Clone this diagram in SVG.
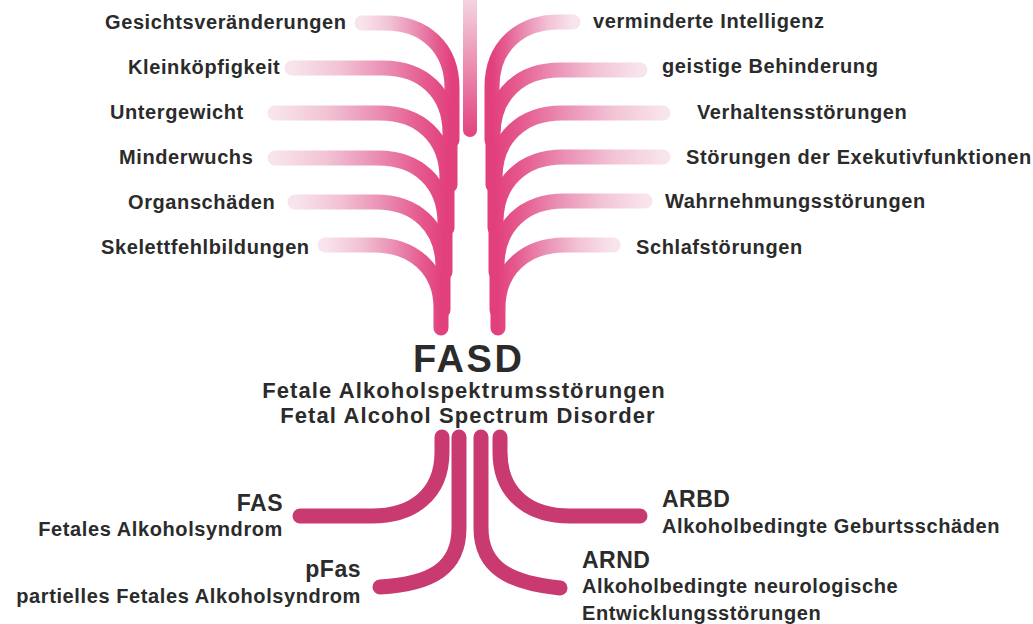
<svg xmlns="http://www.w3.org/2000/svg" width="1033" height="624" viewBox="0 0 1033 624">
<defs>
<linearGradient id="gl" x1="0" y1="0" x2="1" y2="0">
<stop offset="0" stop-color="#f8e4ec"/>
<stop offset="0.3" stop-color="#f2c3d5"/>
<stop offset="0.6" stop-color="#ea8db3"/>
<stop offset="0.85" stop-color="#e5598d"/>
<stop offset="1" stop-color="#e2407d"/>
</linearGradient>
<linearGradient id="gr" x1="1" y1="0" x2="0" y2="0">
<stop offset="0" stop-color="#f8e4ec"/>
<stop offset="0.3" stop-color="#f2c3d5"/>
<stop offset="0.6" stop-color="#ea8db3"/>
<stop offset="0.85" stop-color="#e5598d"/>
<stop offset="1" stop-color="#e2407d"/>
</linearGradient>
<linearGradient id="gc" gradientUnits="userSpaceOnUse" x1="0" y1="0" x2="0" y2="137">
<stop offset="0" stop-color="#f4d3e0"/>
<stop offset="1" stop-color="#e2417e"/>
</linearGradient>
<style>
.rl{fill:none;stroke:url(#gl);stroke-width:15;stroke-linecap:round}
.rr{fill:none;stroke:url(#gr);stroke-width:15;stroke-linecap:round}
.br{fill:none;stroke:#c93a71;stroke-width:15;stroke-linecap:round}
text{font-family:"Liberation Sans",Arial,sans-serif;font-weight:bold;fill:#2b2b2b}
.lab{font-size:20px;letter-spacing:0.6px}
.hd{font-size:23px;letter-spacing:0.5px}
.title{font-size:38px;letter-spacing:2.5px}
.sub{font-size:22px;letter-spacing:1.1px}
</style>
</defs>
<g id="connectors">
<path d="M470,-5 L470,130" fill="none" stroke="url(#gc)" stroke-width="14" stroke-linecap="round"/>
<path class="rl" d="M362,23 L385,23 C425,23 452,48 452,88 L452,140"/>
<path class="rl" d="M292,68 L383,68 C423,68 450,93 450,133 L450,185"/>
<path class="rl" d="M275,113 L380,113 C420,113 447,138 447,178 L447,228"/>
<path class="rl" d="M275,158 L378,158 C418,158 445,183 445,223 L445,272"/>
<path class="rl" d="M295,202 L376,202 C416,202 443,227 443,267 L443,310"/>
<path class="rl" d="M325,245 L374,245 C414,245 441,270 441,308 L441,328"/>
<path class="rr" d="M573,22 L559,22 C519,22 492,47 492,87 L492,140"/>
<path class="rr" d="M640,70 L560,70 C520,70 493,95 493,135 L493,185"/>
<path class="rr" d="M663,113 L562,113 C522,113 495,138 495,178 L495,228"/>
<path class="rr" d="M663,157 L563,157 C523,157 496,182 496,222 L496,272"/>
<path class="rr" d="M645,201 L564,201 C524,201 497,226 497,266 L497,310"/>
<path class="rr" d="M613,245 L565,245 C525,245 498,270 498,308 L498,328"/>
<path class="br" d="M442,437 L442,452 C442,495 412,516 372,516 L300,516"/>
<path class="br" d="M459,437 L459,528 C459,568 432,584 380,587"/>
<path class="br" d="M481,437 L481,528 C481,568 510,583 560,588"/>
<path class="br" d="M500,437 L500,452 C500,495 530,516 570,516 L640,516"/>
</g>
<g id="left-labels">
<text class="lab" x="105" y="29">Gesichtsveränderungen</text>
<text class="lab" x="128" y="74">Kleinköpfigkeit</text>
<text class="lab" x="110" y="119">Untergewicht</text>
<text class="lab" x="119" y="164">Minderwuchs</text>
<text class="lab" x="128" y="209">Organschäden</text>
<text class="lab" x="101" y="254">Skelettfehlbildungen</text>
</g>
<g id="right-labels">
<text class="lab" x="593" y="28">verminderte Intelligenz</text>
<text class="lab" x="662" y="73">geistige Behinderung</text>
<text class="lab" x="697" y="119">Verhaltensstörungen</text>
<text class="lab" x="686" y="164">Störungen der Exekutivfunktionen</text>
<text class="lab" x="665" y="208">Wahrnehmungsstörungen</text>
<text class="lab" x="636" y="254">Schlafstörungen</text>
</g>
<g id="fasd">
<text class="title" x="413" y="372">FASD</text>
<text class="sub" x="464" y="398" text-anchor="middle">Fetale Alkoholspektrumsstörungen</text>
<text class="sub" x="468" y="423" text-anchor="middle">Fetal Alcohol Spectrum Disorder</text>
</g>
<g id="fas">
<text class="hd" x="283" y="511" text-anchor="end">FAS</text>
<text class="lab" x="283" y="536" text-anchor="end">Fetales Alkoholsyndrom</text>
</g>
<g id="pfas">
<text class="hd" x="361" y="577" text-anchor="end">pFas</text>
<text class="lab" x="361" y="603" text-anchor="end">partielles Fetales Alkoholsyndrom</text>
</g>
<g id="arbd">
<text class="hd" x="662" y="507">ARBD</text>
<text class="lab" x="662" y="533">Alkoholbedingte Geburtsschäden</text>
</g>
<g id="arnd">
<text class="hd" x="582" y="568">ARND</text>
<text class="lab" x="582" y="593">Alkoholbedingte neurologische</text>
<text class="lab" x="582" y="620">Entwicklungsstörungen</text>
</g>
</svg>
